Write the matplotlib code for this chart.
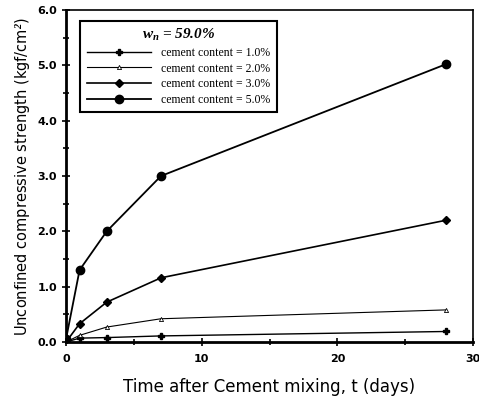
import matplotlib
matplotlib.use("Agg")
import matplotlib.pyplot as plt
from matplotlib.ticker import MultipleLocator, FormatStrFormatter

plt.rcParams["mathtext.fontset"] = "custom"
plt.rcParams["mathtext.it"] = "Liberation Serif:bold:italic"
plt.rcParams["mathtext.rm"] = "Liberation Serif:bold:italic"

days = [0, 1, 3, 7, 28]
c1 = [0.0, 0.07, 0.08, 0.11, 0.19]
c2 = [0.0, 0.12, 0.27, 0.42, 0.58]
c3 = [0.0, 0.33, 0.72, 1.16, 2.20]
c5 = [0.05, 1.30, 2.00, 3.00, 5.02]
labels = ["cement content = 1.0%", "cement content = 2.0%",
          "cement content = 3.0%", "cement content = 5.0%"]

fig = plt.figure(figsize=(4.79, 4.03), dpi=100)
ax = fig.add_axes([66/479, 1-342/403, (473-66)/479, (342-10)/403])

ax.plot(days, c1, color="black", lw=1.0, marker="P", ms=5, label=labels[0])
ax.plot(days, c2, color="black", lw=0.8, marker="^", ms=3, mfc="white", mew=0.6, label=labels[1])
ax.plot(days, c3, color="black", lw=1.2, marker="D", ms=4, label=labels[2])
ax.plot(days, c5, color="black", lw=1.3, marker="o", ms=6, label=labels[3])

ax.set_xlim(0, 30)
ax.set_ylim(0, 6.0)
ax.xaxis.set_major_locator(MultipleLocator(10))
ax.xaxis.set_minor_locator(MultipleLocator(5))
ax.yaxis.set_major_locator(MultipleLocator(1.0))
ax.yaxis.set_minor_locator(MultipleLocator(0.5))
ax.yaxis.set_major_formatter(FormatStrFormatter("%.1f"))

ax.tick_params(axis="both", which="both", direction="inout", width=1.2)
ax.tick_params(axis="both", which="major", length=6, labelsize=8)
ax.tick_params(axis="both", which="minor", length=5)
ax.tick_params(axis="x", which="major", pad=6)
for lab in ax.get_xticklabels() + ax.get_yticklabels():
    lab.set_fontweight("bold")

ax.spines["left"].set_linewidth(2.0)
ax.spines["bottom"].set_linewidth(2.0)
ax.spines["top"].set_linewidth(1.2)
ax.spines["right"].set_linewidth(1.2)

ax.set_xlabel("Time after Cement mixing, t (days)", fontsize=12, labelpad=10)
ax.set_ylabel("Unconfined compressive strength (kgf/cm$^2$)", fontsize=10.5, labelpad=4)

leg = ax.legend(loc="upper left", bbox_to_anchor=(0.02, 0.985), frameon=True,
                fancybox=False, edgecolor="black", framealpha=1,
                prop={"family": "Liberation Serif", "size": 8.5},
                title=r"$w_n$ = 59.0%", handlelength=5.5,
                labelspacing=0.3, borderpad=0.55)
leg.get_frame().set_linewidth(1.5)
t = leg.get_title()
t.set_fontfamily("Liberation Serif")
t.set_fontstyle("italic")
t.set_fontweight("bold")
t.set_fontsize(11)

fig.savefig("out.png", dpi=100)
